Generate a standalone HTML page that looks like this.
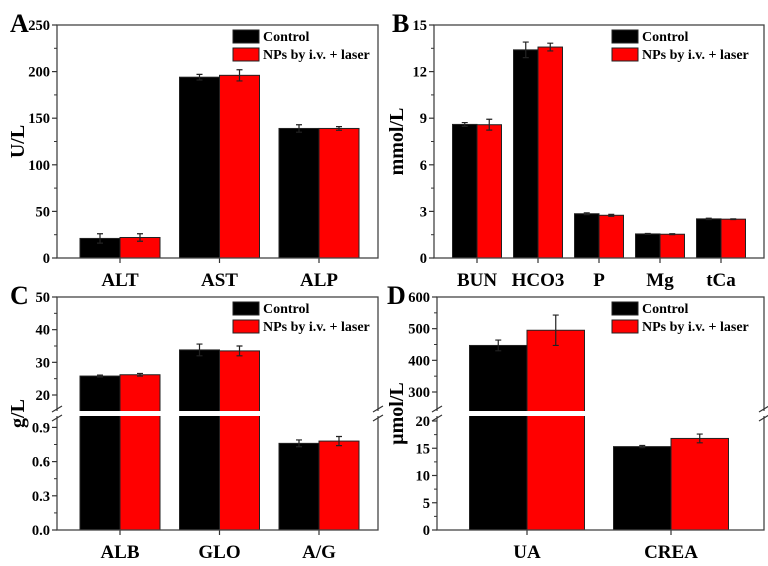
<!DOCTYPE html>
<html><head><meta charset="utf-8"><style>
body{margin:0;background:#fff}
svg{display:block;font-family:"Liberation Serif",serif;font-weight:bold}
</style></head><body>
<svg id="c" width="768" height="566" viewBox="0 0 768 566"></svg>
<script>
const catsA=["ALT","AST","ALP"];
const ctrlA=[21,194,139];const ctrlErrA=[5,3,4];
const npA=[22,196,139];const npErrA=[4,6,2];
const ticksA=[0,50,100,150,200,250];

const catsB=["BUN","HCO3","P","Mg","tCa"];
const ctrlB=[8.6,13.4,2.85,1.55,2.52];const ctrlErrB=[0.12,0.5,0.06,0.03,0.04];
const npB=[8.58,13.58,2.75,1.53,2.5];const npErrB=[0.35,0.25,0.06,0.03,0.02];
const ticksB=[0,3,6,9,12,15];

const catsC=["ALB","GLO","A/G"];
const ctrlC=[25.8,33.8,0.76];const ctrlErrC=[0.3,1.8,0.03];
const npC=[26.2,33.5,0.78];const npErrC=[0.4,1.5,0.04];
const ticksCLow=[0,0.3,0.6,0.9];const ticksCHigh=[20,30,40,50];

const catsD=["UA","CREA"];
const ctrlD=[447,15.3];const ctrlErrD=[17,0.2];
const npD=[495,16.8];const npErrD=[48,0.8];
const ticksDLow=[0,5,10,15,20];const ticksDHigh=[300,400,500,600];

const NS="http://www.w3.org/2000/svg";
const svg=document.getElementById('c');
function el(t,a,p){const e=document.createElementNS(NS,t);for(const k in a)e.setAttribute(k,a[k]);(p||svg).appendChild(e);return e;}

function panel(o){
  const g=el('g',{});
  
  
  const {x0,x1,y0,y1}=o;
  const Y=o.scale;
  const n=o.cats.length;
  for(let i=0;i<n;i++){
    const cx=o.c0+i*o.step;
    [[o.ctrl,o.ctrlErr,'#000',-1,'control'],[o.np,o.npErr,'#ff0000',0,'np']].forEach(s=>{
      const v=s[0][i],e=s[1][i];
      const bx=cx+s[3]*o.bw, by=Y(v);
      const r=el('rect',{x:bx,y:by,width:o.bw,height:y1-by,fill:s[2],stroke:'#222','stroke-width':1},g);
      
      
      const mx=bx+o.bw/2;
      const eb=el('path',{d:`M${mx},${Y(v+e)}V${Y(v-e)}M${mx-3},${Y(v+e)}h6M${mx-3},${Y(v-e)}h6`,stroke:'#222','stroke-width':1.2,fill:'none'},g);
      
      
    });
    const t=el('text',{x:cx,y:y1+28,'font-size':19,'text-anchor':'middle'},g);
    t.textContent=o.cats[i];
    
    
    el('line',{x1:cx,x2:cx,y1:y1,y2:y1+5,stroke:'#333','stroke-width':1.2},g);
  }
  if(o.gap){
    el('rect',{x:x0+1,y:o.gap[0],width:x1-x0-2,height:o.gap[1]-o.gap[0],fill:'#fff'},g);
  }
  const f=el('rect',{x:x0,y:y0,width:x1-x0,height:y1-y0,fill:'none',stroke:'#444','stroke-width':1.3},g);
  
  
  if(o.gap){
    el('rect',{x:x0-8,y:o.gap[0],width:8+3,height:o.gap[1]-o.gap[0],fill:'#fff'},g);
    el('rect',{x:x1-3,y:o.gap[0],width:10,height:o.gap[1]-o.gap[0],fill:'#fff'},g);
    [x0,x1].forEach(xx=>{
      el('path',{d:`M${xx-5},${o.gap[0]+1}l10,-6M${xx-5},${o.gap[1]+5}l10,-6`,stroke:'#333','stroke-width':1.2},g);
    });
  }
  o.ticks.forEach((tv,k)=>{
    const ty=Y(tv);
    el('line',{x1:x0-5,x2:x0,y1:ty,y2:ty,stroke:'#333','stroke-width':1.2},g);
    const t=el('text',{x:x0-7,y:ty+5,'font-size':14.5,'text-anchor':'end'},g);
    t.textContent=o.fmt?o.fmt(tv):tv;
    
    
  });
  (o.minor||[]).forEach(tv=>{const ty=Y(tv);el('line',{x1:x0-3,x2:x0,y1:ty,y2:ty,stroke:'#333','stroke-width':1},g);});
  const yt=el('text',{x:o.ytx,y:(y0+y1)/2,'font-size':20,'text-anchor':'middle',transform:`rotate(-90 ${o.ytx} ${(y0+y1)/2})`},g);
  yt.textContent=o.ytitle;
  
  
  const pl=el('text',{x:o.lx,y:y0+7,'font-size':26},g);
  pl.textContent=o.letter;
  
  
  [['#000','Control',0],['#ff0000','NPs by i.v. + laser',18]].forEach(l=>{
    const r=el('rect',{x:o.legx,y:y0+5+l[2],width:26,height:13,fill:l[0],stroke:'#222'},g);
    
    
    const t=el('text',{x:o.legx+30,y:y0+16+l[2],'font-size':14},g);
    t.textContent=l[1];
    
    
  });
}
function lin(d0,d1,p0,p1){return v=>p0+(v-d0)/(d1-d0)*(p1-p0);}
function mids(t){const r=[];for(let i=0;i<t.length-1;i++)r.push((t[i]+t[i+1])/2);return r;}

panel({name:'panel-a',letter:'A',lx:10,x0:57,x1:378,y0:25,y1:258,scale:lin(0,250,258,25),
  cats:catsA,ctrl:ctrlA,ctrlErr:ctrlErrA,np:npA,npErr:npErrA,c0:120,step:99.5,bw:40,
  ticks:ticksA,minor:mids(ticksA),ytitle:'U/L',ytx:24,legx:233});
panel({name:'panel-b',letter:'B',lx:392,x0:434,x1:764,y0:25,y1:258,scale:lin(0,15,258,25),
  cats:catsB,ctrl:ctrlB,ctrlErr:ctrlErrB,np:npB,npErr:npErrB,c0:477,step:61,bw:24.5,
  ticks:ticksB,minor:mids(ticksB),ytitle:'mmol/L',ytx:403,legx:612});
const scC=v=>v<=1?lin(0,1,530,416)(v):lin(20,50,395,297)(v);
panel({name:'panel-c',letter:'C',lx:10,x0:57,x1:378,y0:297,y1:530,scale:scC,gap:[411,416],
  cats:catsC,ctrl:ctrlC,ctrlErr:ctrlErrC,np:npC,npErr:npErrC,c0:120,step:99.5,bw:40,
  ticks:ticksCLow.concat(ticksCHigh),minor:mids(ticksCLow).concat(mids(ticksCHigh)),fmt:v=>v<=1?v.toFixed(1):v,ytitle:'g/L',ytx:24,legx:233});
const scD=v=>v<=25?lin(0,20,530,421)(v):lin(300,600,392,297)(v);
panel({name:'panel-d',letter:'D',lx:387,x0:437,x1:764,y0:297,y1:530,scale:scD,gap:[411,416],
  cats:catsD,ctrl:ctrlD,ctrlErr:ctrlErrD,np:npD,npErr:npErrD,c0:527,step:144,bw:57.5,
  ticks:ticksDLow.concat(ticksDHigh),minor:mids(ticksDLow).concat(mids(ticksDHigh)),ytitle:'μmol/L',ytx:403,legx:612});
</script>
</body></html>
